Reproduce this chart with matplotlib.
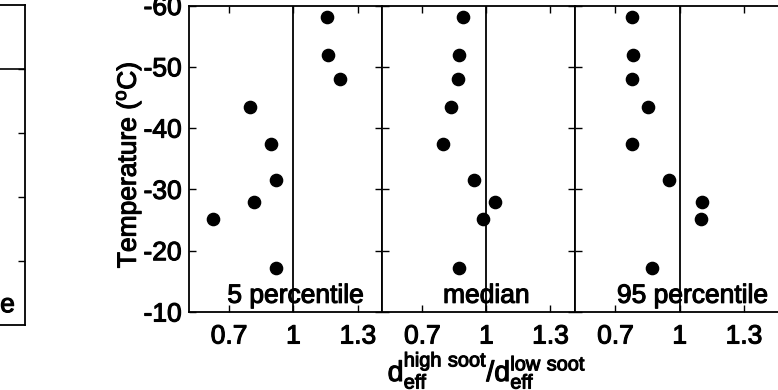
import matplotlib
matplotlib.use('Agg')
import matplotlib.pyplot as plt
import matplotlib.patheffects as pe
from matplotlib.text import Text

plt.rcParams['font.family'] = ['Liberation Sans', 'DejaVu Sans']
plt.rcParams['axes.unicode_minus'] = False
plt.rcParams['font.size'] = 19

# temperatures (C), same for the three panels
temps = [-58.2, -52.0, -48.0, -43.5, -37.4, -31.5, -27.9, -25.1, -17.2]
# ratio d_eff(high soot) / d_eff(low soot)
ratio_p5 = [1.156, 1.161, 1.218, 0.798, 0.896, 0.919, 0.816, 0.623, 0.919]
ratio_med = [0.891, 0.872, 0.867, 0.836, 0.797, 0.941, 1.039, 0.984, 0.872]
ratio_p95 = [0.776, 0.782, 0.779, 0.854, 0.779, 0.950, 1.106, 1.098, 0.869]

noms = ['5 percentile', 'median', '95 percentile']
text_x = [1.01, 1.0, 1.06]
xticks = [0.7, 1, 1.3]
yticks = [-60, -50, -40, -30, -20, -10]

W, H = 778, 390


def caixa(l, r, top, bot):
    # rectangle in pixels -> figure fraction
    return [l / W, 1 - bot / H, (r - l) / W, (bot - top) / H]


fig = plt.figure(figsize=(W / 100, H / 100), dpi=100)

# part of the neighbouring panel, cut by the left border
ax0 = fig.add_axes(caixa(-200, 25, 5, 325))
ax0.set_xlim(0, 1)
ax0.set_ylim(0, 5)
ax0.axhline(4, color='k', lw=1.2)
ax0.set_xticks([])
ax0.set_yticks([1, 2, 3, 4])
ax0.tick_params(axis='y', direction='in', length=5, width=1, left=False,
                right=True, labelleft=False)
ax0.text(0.955, 0.04, '95 percentile', transform=ax0.transAxes, ha='right',
         va='baseline')
for s in ax0.spines.values():
    s.set_linewidth(1.3)

posicions = [caixa(188.5, 382, 5.5, 312), caixa(382, 574.5, 5.5, 312),
             caixa(575, 800.6, 5.5, 312)]
limits = [(0.511, 1.413), (0.511, 1.413), (0.511, 1.565)]
dades = [ratio_p5, ratio_med, ratio_p95]

eixos = []
for i in range(3):
    ax = fig.add_axes(posicions[i])
    ax.plot(dades[i], temps, 'o', color='k', markersize=8.8)
    ax.axvline(1, color='k', lw=1.3)
    ax.set_xlim(limits[i])
    ax.set_ylim(-10, -60)
    ax.set_xticks(xticks)
    ax.set_xticklabels(['0.7', '1', '1.3'])
    ax.set_yticks(yticks)
    ax.tick_params(direction='in', length=5, width=1, top=True, right=True)
    ax.tick_params(axis='x', pad=9)
    ax.tick_params(axis='y', pad=5)
    if i > 0:
        ax.set_yticklabels([])
    ax.text(text_x[i], -11.5, noms[i], ha='center', va='baseline')
    for s in ax.spines.values():
        s.set_linewidth(1.3)
    eixos.append(ax)

eixos[0].set_ylabel(r'Temperature ($\mathregular{^o}$C)')
eixos[0].yaxis.set_label_coords(-0.235, 0.48)

fig.text(487 / W, 9 / H,
         r'$\mathregular{d_{eff}^{high\ soot}/d_{eff}^{low\ soot}}$',
         ha='center', va='baseline', fontsize=20.5)

# the scan makes the letters look heavier
for t in fig.findobj(Text):
    t.set_path_effects([pe.withStroke(linewidth=0.8, foreground='k')])

fig.savefig('out.png', dpi=100)
